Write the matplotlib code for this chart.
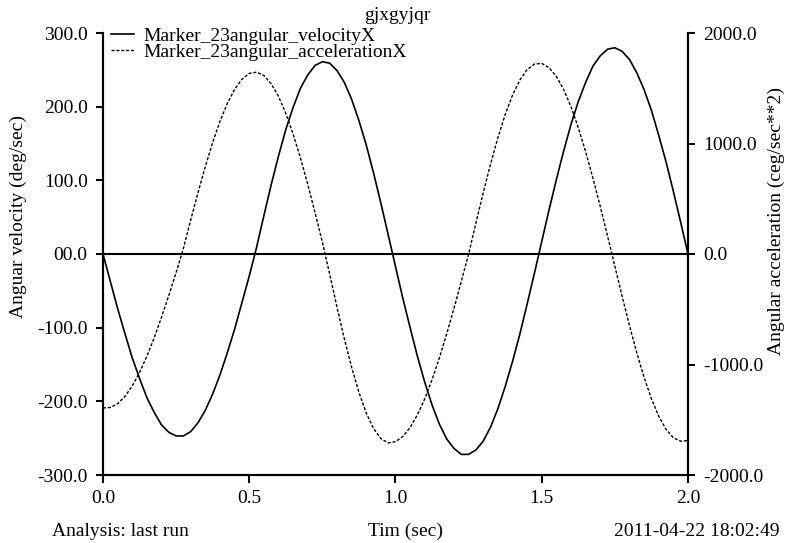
import matplotlib.pyplot as plt

plt.rcParams['font.family'] = ['Liberation Serif', 'DejaVu Serif']
plt.rcParams['font.size'] = 14

# time samples (sec)
time = [0.000, 0.025, 0.050, 0.075, 0.100, 0.125, 0.150, 0.175, 0.200, 0.225,
        0.250, 0.275, 0.300, 0.325, 0.350, 0.375, 0.400, 0.425, 0.450, 0.475,
        0.500, 0.525, 0.550, 0.575, 0.600, 0.625, 0.650, 0.675, 0.700, 0.725,
        0.750, 0.775, 0.800, 0.825, 0.850, 0.875, 0.900, 0.925, 0.950, 0.975,
        1.000, 1.025, 1.050, 1.075, 1.100, 1.125, 1.150, 1.175, 1.200, 1.225,
        1.250, 1.275, 1.300, 1.325, 1.350, 1.375, 1.400, 1.425, 1.450, 1.475,
        1.500, 1.525, 1.550, 1.575, 1.600, 1.625, 1.650, 1.675, 1.700, 1.725,
        1.750, 1.775, 1.800, 1.825, 1.850, 1.875, 1.900, 1.925, 1.950, 1.975,
        2.000]

# angular velocity (deg/sec)
velocity = [0, -37, -74, -108, -141, -169, -195, -215, -232, -242,
            -247, -247, -241, -229, -212, -190, -164, -134, -102, -66,
            -30, 9, 52, 94, 133, 169, 199, 225, 243, 256,
            261, 259, 249, 233, 210, 181, 148, 110, 69, 26,
            -17, -60, -100, -139, -174, -205, -231, -251, -264, -272,
            -272, -266, -254, -235, -210, -180, -146, -109, -68, -26,
            17, 60, 101, 140, 176, 207, 233, 255, 269, 278,
            280, 275, 264, 246, 223, 195, 161, 125, 85, 43,
            0]

# angular acceleration (deg/sec**2)
acceleration = [-1393, -1389, -1355, -1289, -1194, -1071, -925, -758, -573, -374,
                -168, 52, 309, 558, 793, 1010, 1201, 1362, 1491, 1581,
                1634, 1646, 1615, 1541, 1426, 1273, 1085, 870, 630, 374,
                107, -183, -482, -766, -1025, -1252, -1439, -1580, -1671, -1709,
                -1698, -1652, -1570, -1455, -1310, -1137, -939, -723, -491, -248,
                0, 281, 555, 814, 1052, 1261, 1437, 1574, 1669, 1719,
                1725, 1686, 1607, 1488, 1333, 1142, 926, 686, 430, 162,
                -111, -385, -649, -895, -1117, -1310, -1468, -1587, -1663, -1694,
                -1688]

x_ticks = [0.0, 0.5, 1.0, 1.5, 2.0]
x_labels = ["0.0", "0.5", "1.0", "1.5", "2.0"]
v_ticks = [300, 200, 100, 0, -100, -200, -300]
v_labels = ["300.0", "200.0", "100.0", "00.0", "-100.0", "-200.0", "-300.0"]
a_ticks = [2000, 1000, 0, -1000, -2000]
a_labels = ["2000.0", "1000.0", "0.0", "-1000.0", "-2000.0"]

W, H = 785, 543
fig = plt.figure(figsize=(W / 100, H / 100), dpi=100)
ax = fig.add_axes([103 / W, 1 - 475 / H, (688 - 103) / W, (475 - 33) / H])
ax2 = ax.twinx()

ax.axhline(0, color='black', lw=1.5)
l1, = ax.plot(time, velocity, color='black', lw=1.2)
l2, = ax2.plot(time, acceleration, color='black', lw=1.0, ls=(0, (2.2, 1.3)))

ax.set_xlim(0, 2)
ax.set_ylim(-300, 300)
ax2.set_ylim(-2000, 2000)

ax.set_xticks(x_ticks)
ax.set_xticklabels(x_labels)
ax.set_yticks(v_ticks)
ax.set_yticklabels(v_labels)
ax2.set_yticks(a_ticks)
ax2.set_yticklabels(a_labels)

for a in (ax, ax2):
    a.spines['top'].set_visible(False)
    for s in ('left', 'right', 'bottom'):
        a.spines[s].set_linewidth(1.5)
    a.tick_params(axis='y', width=1.5, length=5, pad=6, labelsize=14)
ax.tick_params(axis='x', width=1.5, length=6, pad=5, labelsize=14)

# axis labels and captions
fig.text(18 / W, 1 - 216 / H, "Anguar velocity (deg/sec)", rotation=90,
         ha='center', va='center', fontsize=14)
fig.text(776 / W, 1 - 221 / H, "Angular acceleration (ceg/sec**2)", rotation=90,
         ha='center', va='center', fontsize=14)
fig.text(397 / W, 1 - 20 / H, "gjxgyjqr", ha='center', va='baseline', fontsize=14)

fig.text(52 / W, 1 - 536 / H, "Analysis: last run", ha='left', va='baseline', fontsize=14)
fig.text(406 / W, 1 - 536 / H, "Tim (sec)", ha='center', va='baseline', fontsize=14)
fig.text(780 / W, 1 - 536 / H, "2011-04-22 18:02:49", ha='right', va='baseline', fontsize=14)

ax.legend([l1, l2], ["Marker_23angular_velocityX", "Marker_23angular_accelerationX"],
          loc='upper left', bbox_to_anchor=(111 / W, 1 - 27 / H),
          bbox_transform=fig.transFigure, frameon=False,
          borderpad=0, borderaxespad=0, handlelength=1.2, handletextpad=0.45,
          labelspacing=-0.05, fontsize=14)

fig.savefig("out.png", dpi=100)
